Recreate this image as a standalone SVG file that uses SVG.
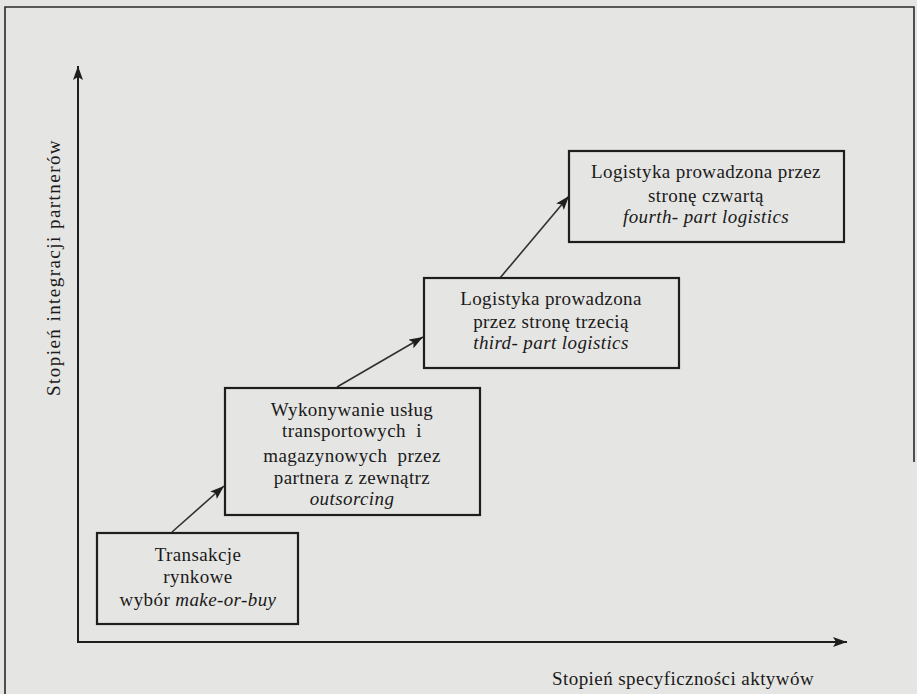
<svg xmlns="http://www.w3.org/2000/svg" width="917" height="694" viewBox="0 0 917 694">
  <style>
    .bg { fill: #e5e5e3; }
    .frame { fill: none; stroke: #2a2a2a; stroke-width: 1.6; }
    .box { fill: #e5e5e3; stroke: #1e1e1e; stroke-width: 2.2; }
    .axis { fill: none; stroke: #1e1e1e; stroke-width: 2; }
    .link { fill: none; stroke: #303030; stroke-width: 1.6; }
    .t { font-family: "Liberation Serif", "DejaVu Serif", serif; font-size: 19px; letter-spacing: 0.4px; fill: #1a1a1a; text-anchor: middle; }
    .i { font-style: italic; }
  </style>
  <defs>
    <marker id="head" viewBox="0 0 14 10" refX="14" refY="5" markerWidth="14" markerHeight="10" markerUnits="userSpaceOnUse" orient="auto">
      <path d="M0,0 L14,5 L0,10 L3,5 Z" fill="#1e1e1e"/>
    </marker>
  </defs>

  <rect class="bg" x="0" y="0" width="917" height="694"/>

  <!-- page frame -->
  <path class="frame" d="M5,694 V7 H914 V462"/>

  <!-- axes -->
  <g id="axes">
    <line class="axis" x1="78" y1="643" x2="78" y2="66" marker-end="url(#head)"/>
    <line class="axis" x1="77" y1="642" x2="847" y2="642" marker-end="url(#head)"/>
    <text class="t" transform="translate(60,268) rotate(-90)" textLength="256" lengthAdjust="spacing">Stopień integracji  partnerów</text>
    <text class="t" x="683" y="685" textLength="262" lengthAdjust="spacing">Stopień specyficzności aktywów</text>
  </g>

  <!-- connectors between stages -->
  <g id="connectors">
    <line class="link" x1="172" y1="532" x2="224" y2="486" marker-end="url(#head)"/>
    <line class="link" x1="337" y1="387" x2="423" y2="337" marker-end="url(#head)"/>
    <line class="link" x1="500" y1="278" x2="569" y2="196" marker-end="url(#head)"/>
  </g>

  <g id="stage-market">
    <rect class="box" x="97" y="533" width="201" height="91"/>
    <text class="t" x="198" y="561">Transakcje</text>
    <text class="t" x="198" y="583">rynkowe</text>
    <text class="t" x="198" y="606">wybór <tspan class="i">make-or-buy</tspan></text>
  </g>

  <g id="stage-outsourcing">
    <rect class="box" x="225" y="388" width="255" height="127"/>
    <text class="t" x="352" y="416">Wykonywanie usług</text>
    <text class="t" x="352" y="437" xml:space="preserve">transportowych  i</text>
    <text class="t" x="352" y="462" xml:space="preserve">magazynowych  przez</text>
    <text class="t" x="352" y="484">partnera z zewnątrz</text>
    <text class="t i" x="352" y="505">outsorcing</text>
  </g>

  <g id="stage-3pl">
    <rect class="box" x="424" y="278" width="255" height="90"/>
    <text class="t" x="551" y="305">Logistyka prowadzona</text>
    <text class="t" x="551" y="328">przez stronę trzecią</text>
    <text class="t i" x="551" y="349">third- part logistics</text>
  </g>

  <g id="stage-4pl">
    <rect class="box" x="569" y="151" width="275" height="91"/>
    <text class="t" x="706" y="178">Logistyka prowadzona przez</text>
    <text class="t" x="706" y="202">stronę czwartą</text>
    <text class="t i" x="706" y="223">fourth- part logistics</text>
  </g>
</svg>
